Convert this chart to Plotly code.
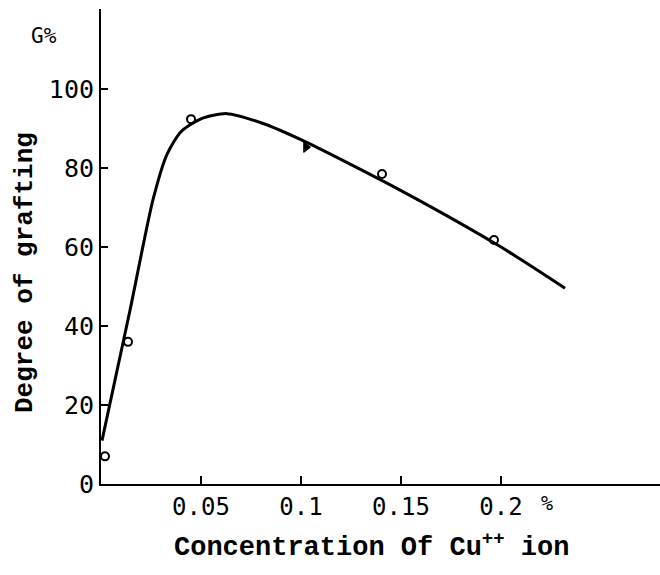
import plotly.graph_objects as go

# measured data points
pt_x = [0.002, 0.0135, 0.045, 0.1405, 0.1965]
pt_y = [7, 36, 92.4, 78.5, 61.8]
tri_x = [0.1025]
tri_y = [85.3]

# fitted curve
curve_x = [0.0005, 0.0145, 0.026, 0.033, 0.040, 0.050, 0.063, 0.080, 0.100, 0.150, 0.200, 0.232]
curve_y = [11.0, 44.0, 72.0, 83.5, 89.2, 92.5, 93.8, 91.5, 87.2, 74.3, 60.0, 49.6]

tick_vals = [0.05, 0.1, 0.15, 0.2]
tick_text = ["0.05", "0.1", "0.15", "0.2"]
ytick_vals = [0, 20, 40, 60, 80, 100]

FONT = "Liberation Mono"
TICKFONT = "DejaVu Sans Mono"

# pixel geometry of the plot area
L, T, W, H = 101, 9, 559, 475


def px(xp):
    return (xp - L) / W


def py(yp):
    return (T + H - yp) / H


fig = go.Figure()
fig.add_trace(go.Scatter(x=curve_x, y=curve_y, mode="lines",
                         line=dict(color="black", width=3, shape="spline", smoothing=0.7),
                         showlegend=False, hoverinfo="skip"))
fig.add_trace(go.Scatter(x=pt_x, y=pt_y, mode="markers",
                         marker=dict(symbol="circle-open", size=8, color="black", line=dict(width=2)),
                         showlegend=False))
fig.add_trace(go.Scatter(x=tri_x, y=tri_y, mode="markers",
                         marker=dict(symbol="triangle-right", size=9, color="black",
                                     line=dict(width=1, color="black")),
                         showlegend=False))

fig.update_layout(
    width=660, height=575,
    margin=dict(l=L, r=660 - L - W, t=T, b=575 - T - H),
    paper_bgcolor="white", plot_bgcolor="white",
    font=dict(family=FONT, color="black"),
    xaxis=dict(range=[0, 0.2795], showgrid=False, zeroline=False,
               showline=True, linecolor="black", linewidth=2,
               ticks="inside", ticklen=8, tickwidth=1.5, tickcolor="black",
               tickvals=tick_vals, ticktext=tick_text,
               tickfont=dict(family=TICKFONT, size=24)),
    yaxis=dict(range=[0, 120.3], showgrid=False, zeroline=False,
               showline=True, linecolor="black", linewidth=2,
               ticks="inside", ticklen=7, tickwidth=1.5, tickcolor="black",
               tickvals=ytick_vals,
               tickfont=dict(family=TICKFONT, size=25)),
    annotations=[
        dict(text="<b>Degree of grafting</b>", x=px(25), y=py(273), xref="paper", yref="paper",
             textangle=-90, showarrow=False, xanchor="center", yanchor="middle",
             font=dict(family=FONT, size=26)),
        dict(text="<b>Concentration Of Cu<sup>++</sup> ion</b>", x=px(371), y=py(545),
             xref="paper", yref="paper", showarrow=False, xanchor="center", yanchor="middle",
             font=dict(family=FONT, size=27)),
        dict(text="G%", x=px(44), y=py(36), xref="paper", yref="paper", showarrow=False,
             xanchor="center", yanchor="middle",
             font=dict(family=TICKFONT, size=21)),
        dict(text="%", x=px(547), y=py(503), xref="paper", yref="paper", showarrow=False,
             xanchor="center", yanchor="middle",
             font=dict(family=TICKFONT, size=20)),
    ],
)

fig.write_html("out.html")
